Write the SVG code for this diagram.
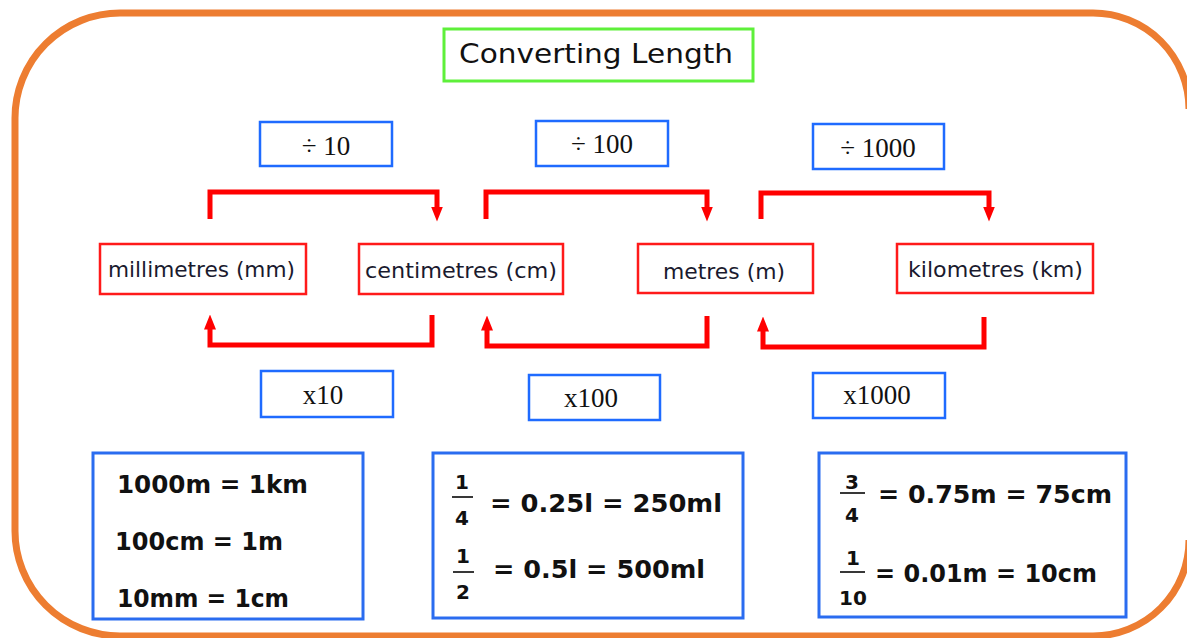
<svg xmlns="http://www.w3.org/2000/svg" width="1187" height="638" viewBox="0 0 1187 638" overflow="hidden">
<style>
.frame{fill:none;stroke:#ed7d31;stroke-width:7}
.unit{fill:#fff;stroke:#ff1a1a;stroke-width:2.5}
.op{fill:#fff;stroke:#1f6bff;stroke-width:2.5}
.fact{fill:#fff;stroke:#2a6cf0;stroke-width:3}
.conn{fill:none;stroke:#ff0000;stroke-width:5}
.lbl{font-family:"DejaVu Sans","Noto Sans",sans-serif;font-size:21px;fill:#1a1a2e}
.opt{font-family:"Liberation Serif","DejaVu Serif",serif;font-size:27px;fill:#111}
.ft{font-family:"DejaVu Sans","Liberation Sans",sans-serif;font-size:25px;font-weight:bold;fill:#111}
.fn{font-family:"DejaVu Sans","Liberation Sans",sans-serif;font-size:20px;font-weight:bold;fill:#111;text-anchor:middle}
.bar{stroke:#222;stroke-width:1.8}
</style>
<defs>
<marker id="ah" viewBox="0 0 10 10" refX="5" refY="5" markerWidth="3" markerHeight="3" orient="auto-start-reverse" markerUnits="strokeWidth">
<path d="M0,1 L10,5 L0,9 z" fill="#ff0000"/>
</marker>
<clipPath id="vp"><rect x="0" y="0" width="1187" height="638"/></clipPath>
</defs>
<rect width="1187" height="638" fill="#fff"/>
<g clip-path="url(#vp)">
<path class="frame" d="M120,13 H1093 A96,96 0 0 1 1189,109 M1189,540 A96,96 0 0 1 1093,636 H120 A105,105 0 0 1 15,531 V118 A105,105 0 0 1 120,13"/>
</g>

<g id="title">
<rect x="444" y="29" width="309" height="52" fill="#fff" stroke="#5ef03a" stroke-width="3"/>
<text x="459" y="63" font-family="DejaVu Sans, sans-serif" font-size="27" fill="#111" textLength="274" lengthAdjust="spacingAndGlyphs">Converting Length</text>
</g>

<g id="div10"><rect class="op" x="260" y="122" width="132" height="44"/><text class="opt" x="326" y="155" text-anchor="middle">÷ 10</text></g>
<g id="div100"><rect class="op" x="536" y="121" width="132" height="45"/><text class="opt" x="602" y="153" text-anchor="middle">÷ 100</text></g>
<g id="div1000"><rect class="op" x="813" y="124" width="131" height="45"/><text class="opt" x="878" y="157" text-anchor="middle">÷ 1000</text></g>

<g id="mm"><rect class="unit" x="100" y="244" width="206" height="50"/><text class="lbl" x="108" y="277" textLength="187" lengthAdjust="spacingAndGlyphs">millimetres (mm)</text></g>
<g id="cm"><rect class="unit" x="359" y="244" width="204" height="50"/><text class="lbl" x="365" y="278" textLength="192" lengthAdjust="spacingAndGlyphs">centimetres (cm)</text></g>
<g id="m"><rect class="unit" x="638" y="244" width="175" height="49"/><text class="lbl" x="663" y="279" textLength="122" lengthAdjust="spacingAndGlyphs">metres (m)</text></g>
<g id="km"><rect class="unit" x="897" y="244" width="196" height="49"/><text class="lbl" x="908" y="277" textLength="175" lengthAdjust="spacingAndGlyphs">kilometres (km)</text></g>

<g id="x10"><rect class="op" x="261" y="371" width="132" height="46"/><text class="opt" x="323" y="404" text-anchor="middle">x10</text></g>
<g id="x100"><rect class="op" x="529" y="375" width="131" height="45"/><text class="opt" x="591" y="407" text-anchor="middle">x100</text></g>
<g id="x1000"><rect class="op" x="813" y="373" width="132" height="45"/><text class="opt" x="877" y="404" text-anchor="middle">x1000</text></g>

<g id="connectors">
<path class="conn" d="M210,219 V192 H437 V214" marker-end="url(#ah)"/>
<path class="conn" d="M486,219 V192 H707 V214" marker-end="url(#ah)"/>
<path class="conn" d="M761,219 V193 H989 V214" marker-end="url(#ah)"/>
<path class="conn" d="M432,315 V345 H210 V322" marker-end="url(#ah)"/>
<path class="conn" d="M707,316 V346 H487 V323" marker-end="url(#ah)"/>
<path class="conn" d="M984,317 V347 H763 V324" marker-end="url(#ah)"/>
</g>

<g id="facts1">
<rect class="fact" x="93" y="453" width="270" height="166"/>
<text class="ft" x="117" y="493" textLength="191" lengthAdjust="spacingAndGlyphs">1000m = 1km</text>
<text class="ft" x="115" y="550" textLength="168" lengthAdjust="spacingAndGlyphs">100cm = 1m</text>
<text class="ft" x="117" y="607" textLength="172" lengthAdjust="spacingAndGlyphs">10mm = 1cm</text>
</g>

<g id="facts2">
<rect class="fact" x="433" y="453" width="310" height="165"/>
<text class="fn" x="462" y="489">1</text><line class="bar" x1="452" y1="497" x2="473" y2="497"/><text class="fn" x="462" y="525">4</text>
<text class="ft" x="490" y="512" textLength="232" lengthAdjust="spacingAndGlyphs">= 0.25l = 250ml</text>
<text class="fn" x="463" y="563">1</text><line class="bar" x1="453" y1="572" x2="474" y2="572"/><text class="fn" x="463" y="599">2</text>
<text class="ft" x="493" y="578" textLength="212" lengthAdjust="spacingAndGlyphs">= 0.5l = 500ml</text>
</g>

<g id="facts3">
<rect class="fact" x="819" y="453" width="307" height="164"/>
<text class="fn" x="852" y="489">3</text><line class="bar" x1="840" y1="493" x2="865" y2="493"/><text class="fn" x="852" y="522">4</text>
<text class="ft" x="878" y="503" textLength="234" lengthAdjust="spacingAndGlyphs">= 0.75m = 75cm</text>
<text class="fn" x="853" y="565">1</text><line class="bar" x1="840" y1="572" x2="865" y2="572"/><text class="fn" x="853" y="605">10</text>
<text class="ft" x="875" y="582" textLength="222" lengthAdjust="spacingAndGlyphs">= 0.01m = 10cm</text>
</g>
</svg>
